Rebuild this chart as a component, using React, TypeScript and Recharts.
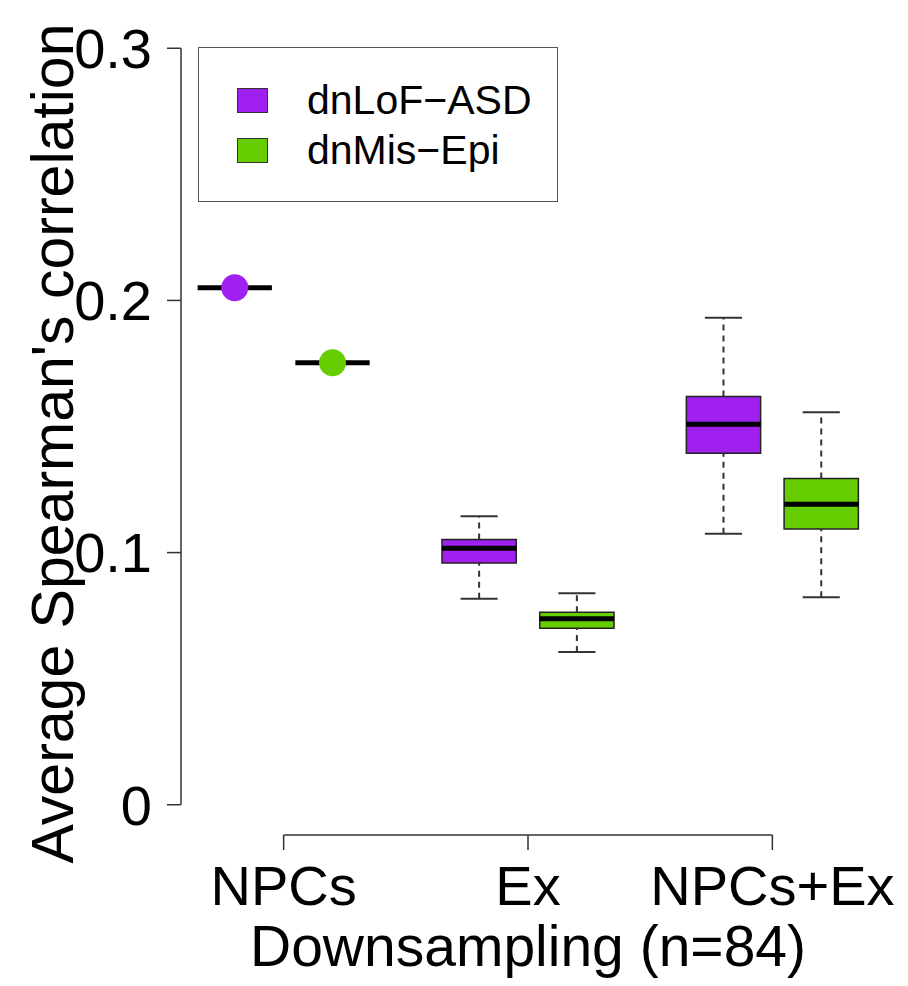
import React from "react";
import {
  ComposedChart,
  XAxis,
  YAxis,
  Scatter,
  ReferenceArea,
  ReferenceLine,
  Legend,
  Label,
} from "recharts";

const FONT = "'Liberation Sans', Arial, sans-serif";

const groups = ["NPCs", "Ex", "NPCs+Ex"];
const seriesNames = ["dnLoF\u2212ASD", "dnMis\u2212Epi"];
const seriesColors = ["#A020F0", "#66CD00"];

// [min, q1, median, q3, max] for each group (NPCs is a single value)
const asdBoxes = [
  [0.205, 0.205, 0.205, 0.205, 0.205],
  [0.0817, 0.0959, 0.1017, 0.1052, 0.1144],
  [0.1075, 0.1394, 0.1509, 0.1619, 0.1931],
];
const epiBoxes = [
  [0.1753, 0.1753, 0.1753, 0.1753, 0.1753],
  [0.0606, 0.07, 0.0738, 0.0763, 0.0839],
  [0.0823, 0.1094, 0.1192, 0.1294, 0.1557],
];
const seriesBoxes = [asdBoxes, epiBoxes];

const yTicks = [0, 0.1, 0.2, 0.3];
const yDomain = [-0.012, 0.312];
const xDomain = [0.45, 7.55];

// box layout (x units)
const groupCenter = (g: number) => 1.5 + 2.5 * g;
const seriesOffset = [-0.5, 0.5];
const boxHalf = 0.38;
const capHalf = 0.19;
const xTicks = groups.map((_, g) => groupCenter(g));

const renderLegend = () => (
  <div
    style={{
      width: 360,
      height: 155,
      border: "1.5px solid #555",
      boxSizing: "border-box",
      background: "#fff",
      position: "relative",
      fontFamily: FONT,
      fontSize: 41,
      color: "#000",
    }}
  >
    {seriesNames.map((name, i) => (
      <div
        key={name}
        style={{
          position: "absolute",
          left: 38,
          top: 37 + i * 50,
          height: 30,
          display: "flex",
          alignItems: "center",
        }}
      >
        <span
          style={{
            display: "inline-block",
            width: 31,
            height: 25,
            background: seriesColors[i],
            border: "1px solid #333",
            boxSizing: "border-box",
          }}
        />
        <span style={{ marginLeft: 39, lineHeight: 1, whiteSpace: "nowrap" }}>{name}</span>
      </div>
    ))}
  </div>
);

export default function App() {
  const marks: React.ReactNode[] = [];
  seriesBoxes.forEach((boxes, s) => {
    boxes.forEach(([lo, q1, med, q3, hi], g) => {
      const x = groupCenter(g) + seriesOffset[s];
      const k = `${s}-${g}`;
      if (hi > q3) {
        marks.push(
          <ReferenceLine key={`wu${k}`} segment={[{ x, y: q3 }, { x, y: hi }]} stroke="#333" strokeWidth={2} strokeDasharray="6 5" ifOverflow="visible" />,
          <ReferenceLine key={`cu${k}`} segment={[{ x: x - capHalf, y: hi }, { x: x + capHalf, y: hi }]} stroke="#333" strokeWidth={2} ifOverflow="visible" />
        );
      }
      if (lo < q1) {
        marks.push(
          <ReferenceLine key={`wl${k}`} segment={[{ x, y: lo }, { x, y: q1 }]} stroke="#333" strokeWidth={2} strokeDasharray="6 5" ifOverflow="visible" />,
          <ReferenceLine key={`cl${k}`} segment={[{ x: x - capHalf, y: lo }, { x: x + capHalf, y: lo }]} stroke="#333" strokeWidth={2} ifOverflow="visible" />
        );
      }
      if (q3 > q1) {
        marks.push(
          <ReferenceArea key={`b${k}`} x1={x - boxHalf} x2={x + boxHalf} y1={q1} y2={q3} fill={seriesColors[s]} fillOpacity={1} stroke="#222" strokeWidth={1.5} ifOverflow="visible" />
        );
      }
      marks.push(
        <ReferenceLine key={`m${k}`} segment={[{ x: x - boxHalf, y: med }, { x: x + boxHalf, y: med }]} stroke="#000" strokeWidth={5} ifOverflow="visible" />
      );
    });
  });

  // single-value groups get a dot on top of the median line
  const pointData = seriesBoxes.map((boxes, s) =>
    boxes
      .map(([lo, , med, , hi], g) => ({ x: groupCenter(g) + seriesOffset[s], y: med, single: lo === hi }))
      .filter((d) => d.single)
  );

  return (
    <div style={{ position: "absolute", left: 0, top: 0, width: 908, height: 986, background: "#fff" }}>
      <ComposedChart width={908} height={986} margin={{ top: 18, right: 33, bottom: 0, left: 0 }}>
        <XAxis
          type="number"
          dataKey="x"
          domain={xDomain}
          allowDataOverflow
          ticks={xTicks}
          tickFormatter={(v: number) => groups[xTicks.indexOf(v)] ?? ""}
          axisLine={false}
          tickLine={{ stroke: "#333", strokeWidth: 1.5 }}
          tickSize={15}
          tickMargin={15}
          height={151}
          interval={0}
          tick={{ fontSize: 56, fill: "#000", fontFamily: FONT }}
        >
          <Label
            content={({ viewBox }: any) => (
              <text
                x={viewBox.x + viewBox.width / 2}
                y={966}
                textAnchor="middle"
                fontSize={57}
                fontFamily={FONT}
                fill="#000"
              >
                Downsampling (n=84)
              </text>
            )}
          />
        </XAxis>
        <YAxis
          type="number"
          dataKey="y"
          domain={yDomain}
          allowDataOverflow
          ticks={yTicks}
          axisLine={false}
          tickLine={{ stroke: "#333", strokeWidth: 1.5 }}
          tickSize={14}
          tickMargin={15}
          width={181}
          interval={0}
          tick={{ fontSize: 56, fill: "#000", fontFamily: FONT }}
        >
          <Label
            content={({ viewBox }: any) => {
              const cx = 52;
              const cy = viewBox.y + viewBox.height / 2 + 17;
              return (
                <text
                  x={0}
                  y={0}
                  dy="0.355em"
                  transform={`translate(${cx},${cy}) rotate(-90)`}
                  textAnchor="middle"
                  fontSize={59}
                  fontFamily={FONT}
                  fill="#000"
                >
                  Average Spearman's correlation
                </text>
              );
            }}
          />
        </YAxis>
        <Legend
          content={renderLegend}
          layout="horizontal"
          verticalAlign="middle"
          align="center"
          wrapperStyle={{ left: 198, top: 47, width: 360, height: 155 }}
        />
        <ReferenceLine segment={[{ x: xDomain[0], y: yTicks[0] }, { x: xDomain[0], y: yTicks[yTicks.length - 1] }]} stroke="#333" strokeWidth={1.5} ifOverflow="visible" />
        <ReferenceLine segment={[{ x: xTicks[0], y: yDomain[0] }, { x: xTicks[xTicks.length - 1], y: yDomain[0] }]} stroke="#333" strokeWidth={1.5} ifOverflow="visible" />
        {marks}
        {pointData.map((data, s) => (
          <Scatter
            key={seriesNames[s]}
            name={seriesNames[s]}
            data={data}
            fill={seriesColors[s]}
            isAnimationActive={false}
            shape={(p: any) => <circle cx={p.cx} cy={p.cy} r={13.5} fill={seriesColors[s]} />}
          />
        ))}
      </ComposedChart>
    </div>
  );
}
